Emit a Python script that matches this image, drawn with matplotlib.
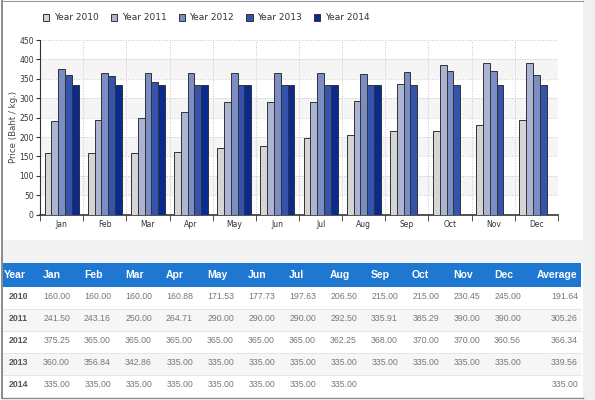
import numpy as np
import matplotlib
matplotlib.use("Agg")
import matplotlib.pyplot as plt
from matplotlib.patches import Rectangle

months = ["Jan", "Feb", "Mar", "Apr", "May", "Jun", "Jul", "Aug", "Sep", "Oct", "Nov", "Dec"]
years = ["2010", "2011", "2012", "2013", "2014"]

price_2010 = [160.00, 160.00, 160.00, 160.88, 171.53, 177.73, 197.63, 206.50, 215.00, 215.00, 230.45, 245.00]
price_2011 = [241.50, 243.16, 250.00, 264.71, 290.00, 290.00, 290.00, 292.50, 335.91, 385.29, 390.00, 390.00]
price_2012 = [375.25, 365.00, 365.00, 365.00, 365.00, 365.00, 365.00, 362.25, 368.00, 370.00, 370.00, 360.56]
price_2013 = [360.00, 356.84, 342.86, 335.00, 335.00, 335.00, 335.00, 335.00, 335.00, 335.00, 335.00, 335.00]
price_2014 = [335.00, 335.00, 335.00, 335.00, 335.00, 335.00, 335.00, 335.00, None, None, None, None]
averages = [191.64, 305.26, 366.34, 339.56, 335.00]

series = [price_2010, price_2011, price_2012, price_2013, price_2014]
colors = ["#d5d5d5", "#abb4d2", "#7b8dc5", "#3353ad", "#0b2a8f"]

W, H = 595, 400
fig = plt.figure(figsize=(W / 100, H / 100), dpi=100)

# background / panel frame in pixel space
bg = fig.add_axes([0, 0, 1, 1], zorder=0)
bg.set_xlim(0, W)
bg.set_ylim(H, 0)
bg.axis("off")
bg.add_patch(Rectangle((583, 0), 12, H, color="#f0f0f0", lw=0))
bg.add_patch(Rectangle((3, 240), 580, 23, color="#f3f3f3", lw=0))
bg.plot([2, 2], [0, 398], color="#777777", lw=1.2)
bg.plot([2, 583], [1, 1], color="#999999", lw=0.8)
bg.plot([2, 583], [397.5, 397.5], color="#888888", lw=1.0)

# --------------------------------------------------
# bar chart
# --------------------------------------------------
ax = fig.add_axes([40 / W, 1 - 214.7 / H, 518 / W, 174.7 / H], zorder=2)
x = np.arange(len(months))
bw = 0.158
for i, (vals, c, yr) in enumerate(zip(series, colors, years)):
    v = np.array([np.nan if a is None else a for a in vals], dtype=float)
    ax.bar(x + (i - 2) * bw, v, width=bw, color=c, edgecolor="#333333",
           linewidth=0.7, label="Year " + yr, zorder=3)

ax.set_xlim(-0.5, 11.5)
ax.set_ylim(0, 450)
ax.set_yticks(np.arange(0, 451, 50))
for k in range(0, 450, 100):
    ax.axhspan(k + 50, k + 100, color="#f5f5f5", zorder=0, lw=0)
ax.set_xticks(x)
ax.set_xticklabels(months)
ax.set_xticks(np.arange(-0.5, 12, 1), minor=True)
ax.tick_params(axis="x", which="major", length=0, labelsize=5.5, pad=4, colors="#333333")
ax.tick_params(axis="x", which="minor", length=4, direction="out", color="#333333")
ax.tick_params(axis="y", labelsize=5.5, length=3, pad=1.5, color="#333333", colors="#333333")
ax.grid(True, axis="y", which="major", color="#c8c8c8", linestyle=":", linewidth=0.7, zorder=1)
ax.grid(True, axis="x", which="minor", color="#c8c8c8", linestyle=":", linewidth=0.7, zorder=1)
ax.set_axisbelow(True)
for s in ["top", "right"]:
    ax.spines[s].set_visible(False)
ax.spines["left"].set_color("#333333")
ax.spines["bottom"].set_color("#333333")
ax.spines["bottom"].set_linewidth(1.2)
ax.set_ylabel("Price (Baht / kg.)", fontsize=6.2, color="#444444")
ax.yaxis.set_label_coords(-22 / 518, 0.5)

fig.legend(loc="center left", bbox_to_anchor=(35 / W, 1 - 18 / H), ncol=5,
           frameon=False, fontsize=6.5, handlelength=0.7, handleheight=0.7,
           handletextpad=0.5, columnspacing=1.35, labelcolor="#333333")

# --------------------------------------------------
# table under the chart
# --------------------------------------------------
tb = fig.add_axes([0, 0, 1, 1], zorder=3)
tb.set_xlim(0, W)
tb.set_ylim(H, 0)
tb.axis("off")
tb.patch.set_alpha(0)

tb.add_patch(Rectangle((3, 263), 578, 24, color="#1e77d0", lw=0))
hdr_font = dict(fontsize=7.5, color="white", fontweight="bold", family="Liberation Sans", va="center")
tb.text(4, 275, "Year", ha="left", **hdr_font)
col0 = 43
pitch = 41
for j, m in enumerate(months):
    tb.text(col0 + pitch * j, 275, m, ha="left", **hdr_font)
tb.text(577, 275, "Average", ha="right", **hdr_font)

row_h = 22
for r, (yr, vals, avg) in enumerate(zip(years, series, averages)):
    top = 287 + r * row_h
    yc = top + row_h / 2 - 1.5
    if r % 2 == 1:
        tb.add_patch(Rectangle((3, top), 578, row_h, color="#f6f6f6", lw=0))
    if r > 0:
        tb.plot([3, 581], [top, top], color="#e2e2e2", lw=0.6)
    tb.text(18.5, yc, yr, ha="center", va="center", fontsize=6.3, fontweight="bold",
            color="#555555", family="Liberation Sans")
    for j, v in enumerate(vals):
        if v is None:
            continue
        tb.text(70 + pitch * j, yc, f"{v:.2f}", ha="right", va="center", fontsize=6.3,
                color="#777777", family="Liberation Sans")
    tb.text(578, yc, f"{avg:.2f}", ha="right", va="center", fontsize=6.3,
            color="#777777", family="Liberation Sans")

fig.savefig("out.png", dpi=100)
